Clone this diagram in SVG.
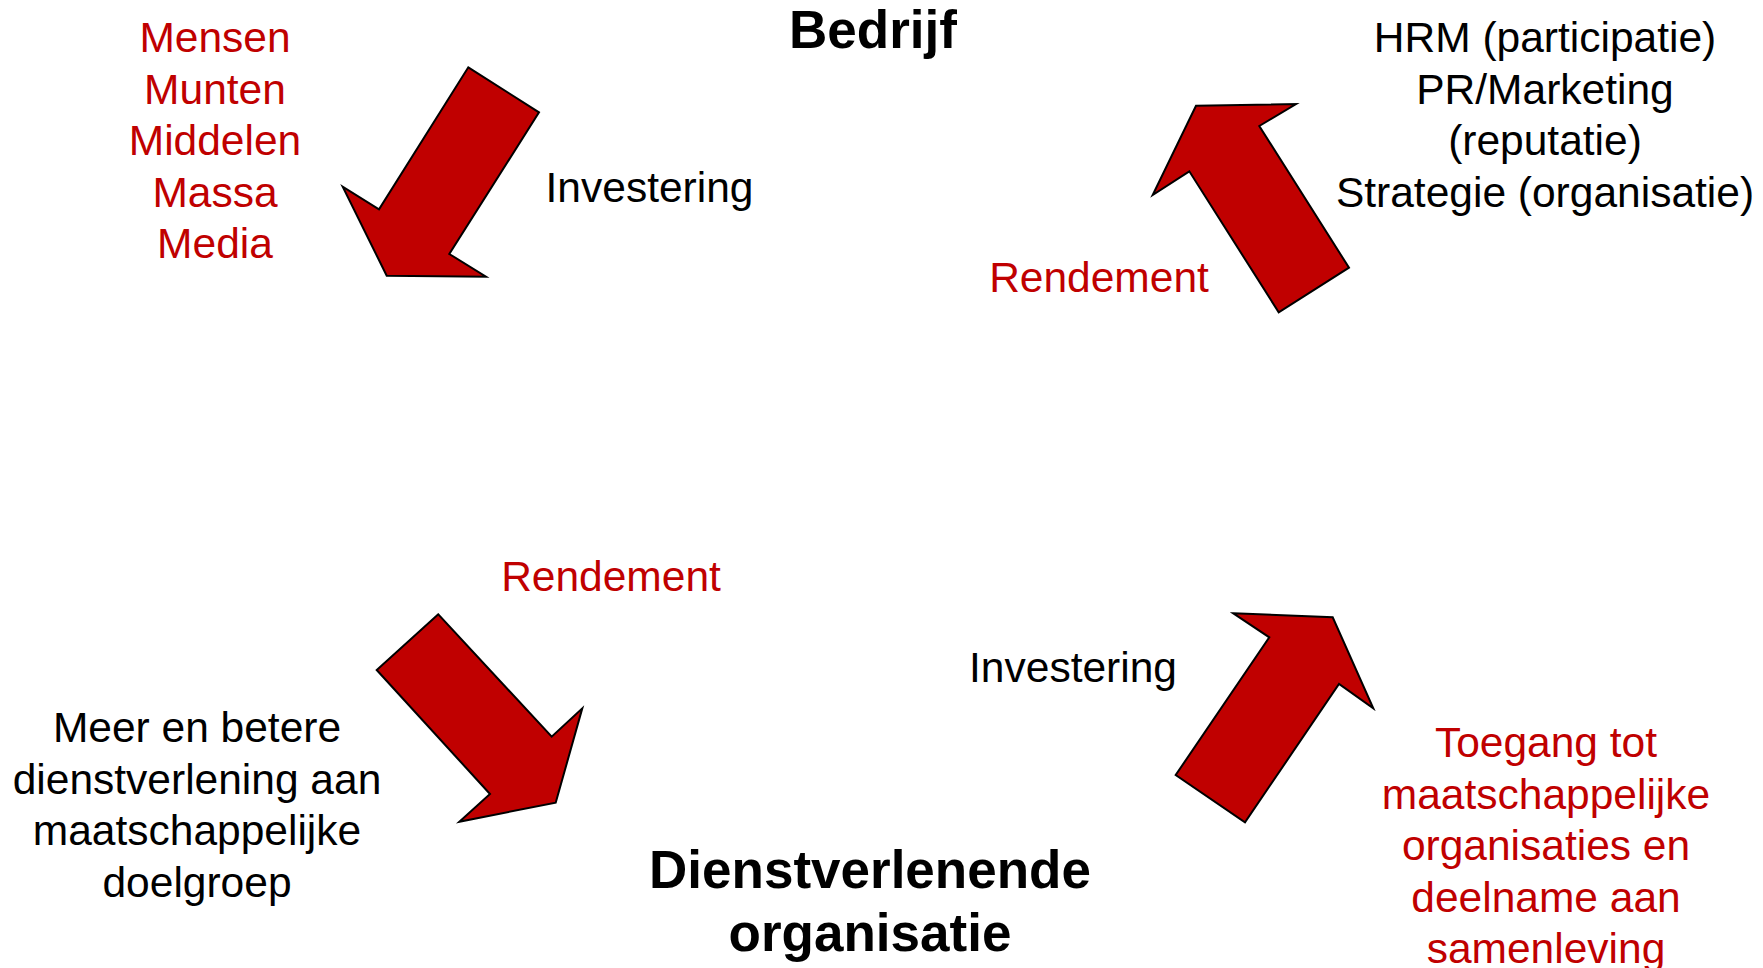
<svg xmlns="http://www.w3.org/2000/svg" width="1763" height="968" viewBox="0 0 1763 968">
<style>
text{font-family:"Liberation Sans",Arial,sans-serif;font-size:42.5px;text-anchor:middle}
.r{fill:#C00000}
.k{fill:#000}
.b{font-weight:bold;font-size:53px;fill:#000}
.arrow{fill:#C00000;stroke:#000;stroke-width:2;stroke-linejoin:miter}
</style>
<rect width="1763" height="968" fill="#fff"/>
<g id="connectors">
<polygon class="arrow" points="468.3,67.3 539,112.3 449.3,254 486,276.7 386.7,275.7 342.7,186.7 379,209.3"/>
<polygon class="arrow" points="1196,105.7 1296,104 1259.3,126 1349,267.7 1278.7,312.3 1189.3,171.3 1152.7,195"/>
<polygon class="arrow" points="438.3,614.3 376.7,670 490,794 459.3,821.7 555.7,802.7 582.3,708.3 551.7,736.7"/>
<polygon class="arrow" points="1233.3,613.3 1332.7,617.3 1373.3,708.3 1339,684 1245,822.3 1175.7,775 1269.3,637.3"/>
</g>
<g id="bedrijf"><text class="b" x="873" y="48">Bedrijf</text></g>
<g id="dienstverlenende"><text class="b" x="870" y="888">Dienstverlenende</text><text class="b" x="870" y="951">organisatie</text></g>
<g id="middelen" class="r">
<text x="215" y="52">Mensen</text>
<text x="215" y="103.5">Munten</text>
<text x="215" y="155">Middelen</text>
<text x="215" y="206.5">Massa</text>
<text x="215" y="258">Media</text>
</g>
<g id="investering-top"><text class="k" x="649.5" y="202">Investering</text></g>
<g id="hrm" class="k">
<text x="1545" y="52">HRM (participatie)</text>
<text x="1545" y="103.5">PR/Marketing</text>
<text x="1545" y="155">(reputatie)</text>
<text x="1545" y="206.5">Strategie (organisatie)</text>
</g>
<g id="rendement-top"><text class="r" x="1099" y="292">Rendement</text></g>
<g id="rendement-bottom"><text class="r" x="611" y="591">Rendement</text></g>
<g id="investering-bottom"><text class="k" x="1073" y="682">Investering</text></g>
<g id="doelgroep" class="k">
<text x="197" y="742">Meer en betere</text>
<text x="197" y="793.5">dienstverlening aan</text>
<text x="197" y="845">maatschappelijke</text>
<text x="197" y="896.5">doelgroep</text>
</g>
<g id="toegang" class="r">
<text x="1546" y="757">Toegang tot</text>
<text x="1546" y="808.5">maatschappelijke</text>
<text x="1546" y="860">organisaties en</text>
<text x="1546" y="911.5">deelname aan</text>
<text x="1546" y="963">samenleving</text>
</g>
</svg>
